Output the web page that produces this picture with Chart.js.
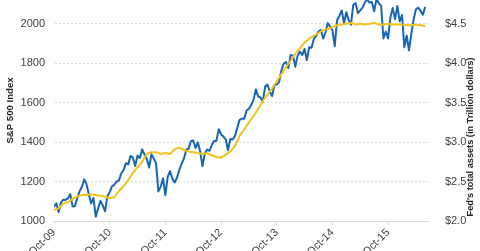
<!DOCTYPE html>
<html>
<head>
<meta charset="utf-8">
<script src="https://cdn.jsdelivr.net/npm/chart.js@4.4.1/dist/chart.umd.min.js"></script>
<style>
  body { margin: 0; background: #fff; }
  #wrap { width: 480px; height: 251px; position: relative; }
</style>
</head>
<body>
<div id="wrap"><canvas id="chart"></canvas></div>
<script>
// S&P 500, twice a month (1st and 15th), starting Oct 2009
const sp500 = [
  1071, 1090, 1045, 1093, 1108, 1107,
  1115, 1136, 1074, 1075, 1115, 1150, 1172, 1211, 1187, 1136, 1089, 1117,
  1022, 1064, 1101, 1080, 1049, 1125, 1146, 1176, 1184, 1199, 1206, 1242,
  1258, 1293, 1287, 1330, 1321, 1279, 1332, 1319, 1363, 1338, 1314, 1271,
  1339, 1316, 1292, 1150, 1174, 1216, 1131, 1224, 1253, 1215, 1195, 1219,
  1258, 1289, 1316, 1361, 1366, 1404, 1408, 1370, 1398, 1353, 1278, 1342,
  1362, 1356, 1385, 1406, 1406, 1465, 1440, 1428, 1414, 1359, 1416, 1413,
  1430, 1472, 1513, 1519, 1518, 1560, 1569, 1588, 1614, 1667, 1631, 1626,
  1606, 1680, 1692, 1655, 1633, 1688, 1691, 1704, 1762, 1798, 1806, 1775,
  1841, 1838, 1782, 1838, 1859, 1841, 1872, 1815, 1881, 1878, 1924, 1937,
  1960, 1968, 1925, 1955, 2003, 1985, 1967, 1886, 2018, 2039, 2067, 2002,
  2058, 2019, 1995, 2096, 2104, 2053, 2067, 2081, 2108, 2122, 2107, 2110,
  2063, 2126, 2103, 2091, 1925, 1960, 1925, 2033, 2079, 2023, 2090, 2012,
  2044, 1880, 1940, 1865, 1948, 2022, 2073, 2081, 2065, 2046, 2085
];

// Fed total assets (trillion $), monthly, starting Oct 2009
const fedAssets = [
  2.14, 2.16, 2.22,
  2.24, 2.28, 2.31, 2.33, 2.33, 2.34, 2.33, 2.32, 2.31, 2.29, 2.30, 2.38,
  2.44, 2.52, 2.61, 2.68, 2.75, 2.85, 2.87, 2.87, 2.85, 2.86, 2.85, 2.91,
  2.93, 2.90, 2.88, 2.87, 2.86, 2.85, 2.86, 2.83, 2.81, 2.80, 2.84, 2.88,
  2.95, 3.08, 3.16, 3.25, 3.33, 3.42, 3.52, 3.60, 3.68, 3.77, 3.86, 3.95,
  4.03, 4.12, 4.19, 4.26, 4.31, 4.35, 4.38, 4.42, 4.43, 4.46, 4.48, 4.49,
  4.50, 4.51, 4.49, 4.50, 4.49, 4.50, 4.51, 4.49, 4.49, 4.50, 4.49, 4.49,
  4.49, 4.48, 4.48, 4.49, 4.48, 4.47
];

const xTickLabels = ['Oct-09', 'Oct-10', 'Oct-11', 'Oct-12', 'Oct-13', 'Oct-14', 'Oct-15'];
const leftTicks = [1000, 1200, 1400, 1600, 1800, 2000];
const rightTicks = [2.0, 2.5, 3.0, 3.5, 4.0, 4.5];

const spStep = 0.5;   // months between S&P points
const fedStep = 1;    // months between Fed points

const textColor = '#404040';
const gridColor = '#d9d9d9';
const fontFamily = '"Liberation Sans", Arial, sans-serif';

const spPoints = sp500.map((v, i) => ({ x: i * spStep, y: v }));
const fedPoints = fedAssets.map((v, i) => ({ x: i * fedStep, y: v }));

// right title reads bottom-to-top, so draw it ourselves
const rightTitle = {
    id: 'rightTitle',
    afterDraw(chart) {
        const ctx = chart.ctx;
        ctx.save();
        ctx.translate(470, 137);
        ctx.rotate(-Math.PI / 2);
        ctx.font = 'bold 9.2px ' + fontFamily;
        ctx.fillStyle = '#262626';
        ctx.textAlign = 'center';
        ctx.textBaseline = 'middle';
        ctx.fillText("Fed's total assets (in Trillion dollars)", 0, 0);
        ctx.restore();
    }
};

function noPadding(scale) {
    scale.paddingTop = 0;
    scale.paddingBottom = 0;
    scale.paddingLeft = 0;
    scale.paddingRight = 0;
}

new Chart(document.getElementById('chart'), {
    type: 'line',
    data: {
        datasets: [
            {
                label: 'Fed',
                data: fedPoints,
                yAxisID: 'y2',
                borderColor: '#f2c31a',
                borderWidth: 2,
                pointRadius: 0,
                tension: 0,
                order: 1
            },
            {
                label: 'S&P 500',
                data: spPoints,
                yAxisID: 'y',
                borderColor: '#1766b4',
                borderWidth: 2,
                pointRadius: 0,
                tension: 0,
                borderJoinStyle: 'round',
                order: 2
            }
        ]
    },
    options: {
        responsive: true,
        maintainAspectRatio: false,
        animation: false,
        layout: { padding: 0 },
        plugins: { legend: { display: false }, tooltip: { enabled: false } },
        scales: {
            x: {
                type: 'linear',
                min: 0,
                max: 80.6,
                afterBuildTicks: (s) => { s.ticks = xTickLabels.map((l, i) => ({ value: i * 12 })); },
                afterFit: (s) => { s.height = 30; noPadding(s); },
                grid: { drawOnChartArea: false, drawTicks: true, tickLength: 4, color: gridColor },
                border: { color: gridColor },
                ticks: {
                    autoSkip: false,
                    maxRotation: 45,
                    minRotation: 45,
                    padding: 1,
                    color: textColor,
                    font: { size: 11, family: fontFamily },
                    callback: (v) => xTickLabels[Math.round(v / 12)]
                }
            },
            y: {
                position: 'left',
                min: 1000,
                max: 2120,
                afterBuildTicks: (s) => { s.ticks = leftTicks.map(v => ({ value: v })); },
                afterFit: (s) => { s.width = 54; noPadding(s); },
                grid: { color: gridColor, drawTicks: false },
                border: { display: true, color: 'rgba(0,0,0,0)', dash: [2, 2] },
                ticks: {
                    padding: 9,
                    color: textColor,
                    font: { size: 11, family: fontFamily },
                    callback: (v) => String(v)
                },
                title: {
                    display: true,
                    text: 'S&P 500 Index',
                    color: '#262626',
                    padding: { top: 5, bottom: 0 },
                    font: { size: 9.6, weight: 'bold', family: fontFamily }
                }
            },
            y2: {
                position: 'right',
                min: 2.0,
                max: 4.8,
                afterBuildTicks: (s) => { s.ticks = rightTicks.map(v => ({ value: v })); },
                afterFit: (s) => { s.width = 52; noPadding(s); },
                grid: { display: false },
                border: { display: false },
                ticks: {
                    padding: 9,
                    color: textColor,
                    font: { size: 11, family: fontFamily },
                    callback: (v) => '$' + v.toFixed(1)
                }
            }
        }
    },
    plugins: [rightTitle]
});
</script>
</body>
</html>
